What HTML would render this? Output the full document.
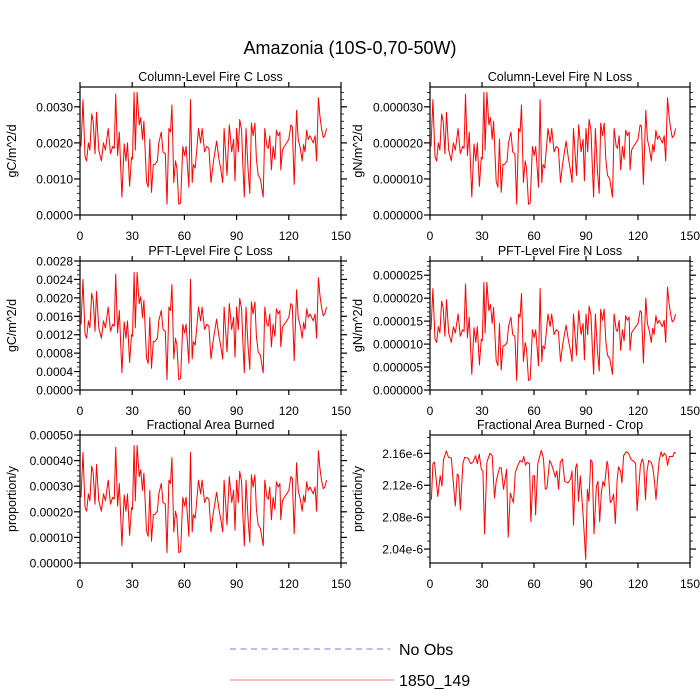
<!DOCTYPE html>
<html><head><meta charset="utf-8"><style>
html,body{margin:0;padding:0;background:#fff;}
svg{display:block;font-family:"Liberation Sans",sans-serif;}
</style></head><body>
<svg id="chart" width="700" height="700" viewBox="0 0 700 700" xmlns="http://www.w3.org/2000/svg">
<text x="350" y="54" font-size="18" text-anchor="middle">Amazonia (10S-0,70-50W)</text>
<g id="panels"></g>
<g>
<line x1="230" y1="649" x2="390" y2="649" stroke="#7777ee" stroke-width="1" stroke-dasharray="6,4.5"/>
<text x="399" y="655" font-size="16">No Obs</text>
<line x1="230" y1="680" x2="394" y2="680" stroke="#ff7777" stroke-width="1"/>
<text x="399" y="686" font-size="16">1850_149</text>
</g>
</svg>
<script>
// Base series (fire C loss, units 1e-3 gC/m^2/d)
const baseYears = [0.6,1.7,2.9,3.8,4.8,5.7,6.7,7.6,8.6,9.5,10.8,12.3,13.5,14.6,16.2,17.5,18.8,19.7,20.5,21.6,22.6,24.1,25.4,26.4,27.3,28.5,29.6,30.2,31.1,31.8,32.8,34,34.9,35.9,36.7,38.2,39.2,40.1,41.1,42.1,43,44.5,45.3,46.7,47.7,49,50,51.1,52,52.8,53.9,54.9,55.7,56.8,57.8,59.1,60.1,61,62.6,63.5,64.5,65.2,66.2,67,68.1,69.3,70.2,71.6,
72.8,74.1,75.3,76.6,78.5,79.9,81,82,82.8,84.5,85.8,87.2,88.3,89.1,90,91,91.8,92.9,93.5,94.4,95.4,96.6,97.6,98.5,99.5,100.5,101.4,102.4,103.7,105.3,106.2,107.4,108.2,109.1,110,111,112,112.9,113.9,114.9,115.4,116.3,117.4,118.8,120,121.2,122,123.1,124.5,125.4,126.6,127.7,128.5,129.3,130.3,131.2,132.2,133.1,134.1,135.1,136,137,137.9,138.8,139.8,140.7,141.7];
const baseValues = [1.9,3.2,1.62,1.5,2.0,1.8,2.8,2.6,1.7,2.85,1.8,1.5,2.0,1.8,2.4,1.7,1.9,1.85,3.35,1.65,2.3,0.5,1.97,1.5,2.0,0.8,1.6,1.55,3.4,1.8,3.4,2.5,2.7,2.1,2.6,0.93,0.77,2.1,0.63,1.4,1.4,1.5,2.0,2.3,1.75,1.7,0.3,2.4,2.3,3.05,0.9,1.5,1.3,0.3,0.33,1.9,1.65,1.9,0.77,3.2,0.9,1.4,1.3,1.75,2.4,2.0,2.4,1.75,
1.9,1.85,0.9,1.45,2.05,1.55,1.25,0.9,2.4,1.1,2.5,1.75,2.1,0.95,2.4,1.75,2.65,2.35,1.5,0.5,2.4,1.25,0.6,2.55,2.2,2.55,1.55,1.1,1.0,0.5,2.4,1.9,1.85,2.2,1.25,1.9,1.55,2.35,2.2,2.3,1.25,1.8,1.9,2.0,2.1,2.5,2.45,0.85,2.9,2.1,1.85,1.5,1.95,1.75,2.35,2.1,2.2,2.1,2.0,2.2,1.5,3.25,2.75,2.4,2.15,2.2,2.4];
// Crop area burned (units 1e-6 proportion/y)
const cropYears = [0.8,1.7,2.6,4.5,5.9,6.9,7.8,9.4,10.7,12.3,14.6,15.7,16.5,17.5,19,20,21.9,23.5,24.8,26.3,27.3,28.4,29.6,30.5,31.5,32.8,34.7,35.9,37.2,38.2,40.1,41.1,42.4,44.2,45.1,46.3,48.2,49.2,50.7,52,53.2,54.1,55.1,56.1,57.4,58.2,59.4,60.3,60.9,62.2,64.2,65.5,66.5,67.5,69,70,71.3,72.3,73.2,74.2,75.2,76.4,
77.7,79.6,81.1,81.9,82.8,84,84.8,85.7,86.7,88.3,89.8,90.8,91.7,92.7,93.6,94.6,96,96.9,97.9,98.8,99.8,100.7,102.1,102.6,104,105.1,105.9,106.9,108,108.8,109.9,110.7,111.7,113.2,114.6,116.1,117.6,118.6,119.5,120.5,121.4,122.4,123.3,124.3,125.2,126.2,127.5,128.5,129.5,130.4,131.4,132.3,133.3,134.2,135.2,136.2,137.1,138.1,139,140,141,141.9];
const cropValues = [2.102,2.147,2.149,2.106,2.132,2.119,2.152,2.163,2.155,2.154,2.094,2.134,2.132,2.089,2.147,2.155,2.154,2.147,2.149,2.157,2.147,2.159,2.140,2.138,2.059,2.149,2.160,2.157,2.104,2.125,2.142,2.142,2.115,2.140,2.055,2.110,2.098,2.136,2.145,2.151,2.149,2.156,2.145,2.149,2.147,2.074,2.132,2.132,2.083,2.147,2.164,2.153,2.115,2.117,2.151,2.147,2.138,2.130,2.138,2.115,2.149,2.153,
2.125,2.123,2.128,2.138,2.070,2.142,2.147,2.100,2.132,2.083,2.027,2.115,2.100,2.152,2.149,2.059,2.119,2.125,2.074,2.110,2.125,2.119,2.150,2.147,2.098,2.102,2.109,2.072,2.128,2.143,2.138,2.123,2.157,2.162,2.160,2.152,2.150,2.147,2.088,2.119,2.145,2.153,2.147,2.102,2.138,2.151,2.149,2.143,2.125,2.102,2.132,2.152,2.162,2.156,2.160,2.157,2.145,2.156,2.156,2.156,2.161,2.160];
// Per-panel unit scale of base series
const panelScales = [0.001, 0.00001, 0.00075, 0.0000069, 0.000135, 0.000001];
const panelTitles = ["Column-Level Fire C Loss","Column-Level Fire N Loss","PFT-Level Fire C Loss","PFT-Level Fire N Loss","Fractional Area Burned","Fractional Area Burned - Crop"];
const yTitles = ["gC/m^2/d","gN/m^2/d","gC/m^2/d","gN/m^2/d","proportion/y","proportion/y"];
const xTicks = [0,30,60,90,120,150];
const yTickLabels = [
 ["0.0000","0.0010","0.0020","0.0030"],
 ["0.000000","0.000010","0.000020","0.000030"],
 ["0.0000","0.0004","0.0008","0.0012","0.0016","0.0020","0.0024","0.0028"],
 ["0.000000","0.000005","0.000010","0.000015","0.000020","0.000025"],
 ["0.00000","0.00010","0.00020","0.00030","0.00040","0.00050"],
 ["2.04e-6","2.08e-6","2.12e-6","2.16e-6"]
];
const yTickValues = [
 [0,0.001,0.002,0.003],
 [0,0.00001,0.00002,0.00003],
 [0,0.0004,0.0008,0.0012,0.0016,0.0020,0.0024,0.0028],
 [0,0.000005,0.00001,0.000015,0.00002,0.000025],
 [0,0.0001,0.0002,0.0003,0.0004,0.0005],
 [2.04e-6,2.08e-6,2.12e-6,2.16e-6]
];
const yRanges = [[0,0.00355],[0,0.0000355],[0,0.0028],[0,0.0000281],[0,0.0005],[2.0225e-6,2.183e-6]];
const yMinorStep = [0.0002,0.000002,0.0001,0.000001,0.00002,0.01e-6];

const NS="http://www.w3.org/2000/svg";
const root=document.getElementById('panels');
const boxesX=[[80,341],[430,690]];
const boxesY=[[87,215],[261,390],[435,563]];
const panelNames=["column-c-loss","column-n-loss","pft-c-loss","pft-n-loss","area-burned","area-burned-crop"];
function mk(tag,attrs,parent){const e=document.createElementNS(NS,tag);for(const k in attrs)e.setAttribute(k,attrs[k]);parent.appendChild(e);return e;}

for(let p=0;p<6;p++){
  const col=p%2,row=Math.floor(p/2);
  const [x0,x1]=boxesX[col],[y0,y1]=boxesY[row];
  const g=mk('g',{},root);
  
  
  const xs=v=>x0+(v-0)/150*(x1-x0);
  const [lo,hi]=yRanges[p];
  const ys=v=>y1-(v-lo)/(hi-lo)*(y1-y0);
  // title
  const t=mk('text',{x:(x0+x1)/2,y:y0-6,'font-size':12.5,'text-anchor':'middle'},g);
  
  
  t.textContent=panelTitles[p];
  // series
  let pts;
  if(p===5) pts=cropYears.map((yr,i)=>xs(yr).toFixed(1)+','+ys(cropValues[i]*panelScales[p]).toFixed(1));
  else pts=baseYears.map((yr,i)=>xs(yr).toFixed(1)+','+ys(baseValues[i]*panelScales[p]).toFixed(1));
  const line=mk('polyline',{points:pts.join(' '),fill:'none',stroke:'#ff0000','stroke-width':1,'stroke-linejoin':'round'},g);
  
  
  // frame
  const r=mk('rect',{x:x0,y:y0,width:x1-x0,height:y1-y0,fill:'none',stroke:'#000','stroke-width':1.2},g);
  
  
  // x ticks
  xTicks.forEach(v=>{
    const X=xs(v);
    mk('line',{x1:X,y1:y1,x2:X,y2:y1+5,stroke:'#000','stroke-width':1.2},g);
    mk('line',{x1:X,y1:y0,x2:X,y2:y0-5,stroke:'#000','stroke-width':1.2},g);
    const tl=mk('text',{x:X,y:y1+25,'font-size':12,'text-anchor':'middle'},g);
    
    
    tl.textContent=v;
  });
  // y minor ticks
  const st=yMinorStep[p];
  for(let v=Math.ceil(lo/st-1e-6)*st; v<=hi+1e-15; v+=st){
    const Y=ys(v);
    if(Y<y0-0.5||Y>y1+0.5) continue;
    mk('line',{x1:x0,y1:Y,x2:x0-3,y2:Y,stroke:'#000','stroke-width':0.8},g);
    mk('line',{x1:x1,y1:Y,x2:x1+3,y2:Y,stroke:'#000','stroke-width':0.8},g);
  }
  // y major ticks
  yTickValues[p].forEach((v,i)=>{
    const Y=ys(v);
    mk('line',{x1:x0,y1:Y,x2:x0-6,y2:Y,stroke:'#000','stroke-width':1.2},g);
    mk('line',{x1:x1,y1:Y,x2:x1+6,y2:Y,stroke:'#000','stroke-width':1.2},g);
    const tl=mk('text',{x:x0-7,y:Y+4.5,'font-size':12,'text-anchor':'end'},g);
    
    
    tl.textContent=yTickLabels[p][i];
  });
  // y title
  const cx=col===0?12:358, cy=(y0+y1)/2;
  const yt=mk('text',{x:cx,y:cy,'font-size':12.5,'text-anchor':'middle',transform:`rotate(-90 ${cx} ${cy})`,dy:4},g);
  
  
  yt.textContent=yTitles[p];
}
</script>
</body></html>
